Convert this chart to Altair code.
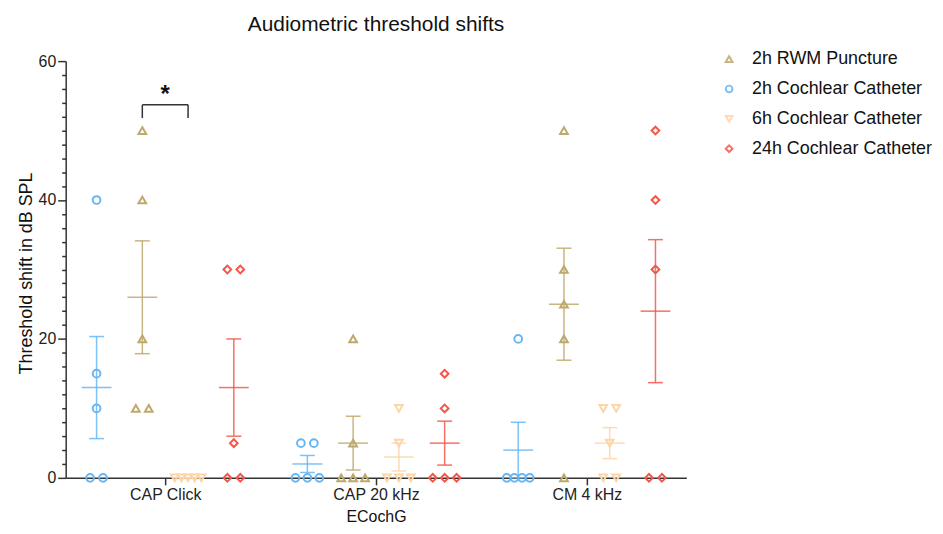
import altair as alt
import pandas as pd
import numpy as np

# ---------------- data ----------------
categories = ["CAP Click", "CAP 20 kHz", "CM 4 kHz"]
series = ["2h RWM Puncture", "2h Cochlear Catheter", "6h Cochlear Catheter", "24h Cochlear Catheter"]
slot_order = ["2h Cochlear Catheter", "2h RWM Puncture", "6h Cochlear Catheter", "24h Cochlear Catheter"]

rwm_2h = [[50, 40, 20, 10, 10], [20, 5, 0, 0, 0], [50, 30, 25, 20, 0]]
cc_2h = [[40, 15, 10, 0, 0], [5, 5, 0, 0, 0], [20, 0, 0, 0, 0]]
cc_6h = [[0, 0, 0, 0, 0], [10, 5, 0, 0, 0], [10, 10, 5, 0, 0]]
cc_24h = [[30, 30, 5, 0, 0], [15, 10, 0, 0, 0], [50, 40, 30, 0, 0]]

# significance annotation
sig_category = "CAP Click"
sig_pair = ["2h RWM Puncture", "6h Cochlear Catheter"]
sig_levels = [51.8, 53.7]
sig_label = "*"

colors = ["#BEA96C", "#66B6F4", "#FDD5A6", "#F4574A"]
shapes = ["triangle-up", "circle", "triangle-down", "diamond"]

# ---------------- layout helpers ----------------
values = dict(zip(series, [rwm_2h, cc_2h, cc_6h, cc_24h]))
col_of = dict(zip(series, colors))
W, H = 624, 419
X_MIN, X_MAX = 0.528, 3.472
px = (X_MAX - X_MIN) / W
slot_step = 46 * px
spread_px = {1: 0, 2: 13, 3: 12, 4: 7.7, 5: 6.7}


def center_of(s, ci):
    return ci + 1 + (slot_order.index(s) - 1.5) * slot_step


rows, stats = [], []
for s in series:
    for ci, cat in enumerate(categories):
        vals = values[s][ci]
        c = center_of(s, ci)
        for v in sorted(set(vals), reverse=True):
            n = vals.count(v)
            sp = spread_px[n] * px
            for i in range(n):
                rows.append(dict(series=s, category=cat, x=c + (i - (n - 1) / 2) * sp, y=v))
        arr = np.array(vals, dtype=float)
        m = arr.mean()
        sem = arr.std(ddof=1) / np.sqrt(len(arr))
        stats.append(dict(series=s, col=col_of[s], category=cat, x=c, mean=m, lo=m - sem, hi=m + sem))

pts = pd.DataFrame(rows)
st = pd.DataFrame(stats)

ci_sig = categories.index(sig_category)
xa, xb = center_of(sig_pair[0], ci_sig), center_of(sig_pair[1], ci_sig)
br_h = pd.DataFrame([dict(x=xa, x2=xb, y=sig_levels[1])])
br_v = pd.DataFrame([dict(x=xa, y=sig_levels[0], y2=sig_levels[1]),
                     dict(x=xb, y=sig_levels[0], y2=sig_levels[1])])
star = pd.DataFrame([dict(x=(xa + xb) / 2, y=sig_levels[1], t=sig_label)])

color_scale = alt.Scale(domain=series, range=colors)
shape_scale = alt.Scale(domain=series, range=shapes)
xs = alt.Scale(domain=[X_MIN, X_MAX], nice=False, zero=False)
ys = alt.Scale(domain=[0, 60], nice=False, zero=True)

label_expr = "[''," + ",".join("'%s'" % c for c in categories) + "][datum.value]"

x_axis = alt.Axis(values=[1, 2, 3], labelExpr=label_expr, title="ECochG", tickSize=7,
                  labelFontSize=16, titleFontSize=16, labelPadding=2, titlePadding=6,
                  grid=False, labelFlush=False)
y_axis = alt.Axis(values=list(range(0, 61, 2)),
                  labelExpr="datum.value % 20 === 0 ? datum.label : ''",
                  tickSize={"condition": {"test": "datum.value % 20 === 0", "value": 8}, "value": 4},
                  labelOverlap=False, title="Threshold shift in dB SPL", labelFontSize=16,
                  titleFontSize=18, labelPadding=2, titlePadding=3, titleY=213, grid=False)


def X(f):
    return alt.X(f, scale=xs, axis=x_axis)


def Y(f):
    return alt.Y(f, scale=ys, axis=y_axis)


lit = alt.Color("col:N", scale=None)

err = alt.Chart(st).mark_rule(strokeWidth=1.5, opacity=0.85).encode(
    x=X("x:Q"), y=Y("lo:Q"), y2="hi:Q", color=lit)
cap_lo = alt.Chart(st).mark_tick(orient="horizontal", size=15, thickness=1.5, opacity=0.85).encode(
    x=X("x:Q"), y=Y("lo:Q"), color=lit)
cap_hi = alt.Chart(st).mark_tick(orient="horizontal", size=15, thickness=1.5, opacity=0.85).encode(
    x=X("x:Q"), y=Y("hi:Q"), color=lit)
mean_t = alt.Chart(st).mark_tick(orient="horizontal", size=30, thickness=1.5, opacity=0.85).encode(
    x=X("x:Q"), y=Y("mean:Q"), color=lit)

leg = alt.Legend(title=None, orient="none", legendX=658, legendY=-11,
                 labelFontSize=18, labelOffset=14, rowPadding=12, labelLimit=0,
                 symbolSize=45, symbolStrokeWidth=2, padding=0, labelColor="#111")

points = alt.Chart(pts).mark_point(filled=False, size=60, strokeWidth=2, opacity=1).encode(
    x=X("x:Q"), y=Y("y:Q"),
    color=alt.Color("series:N", scale=color_scale, legend=leg, sort=series),
    shape=alt.Shape("series:N", scale=shape_scale, legend=leg, sort=series),
)

bh = alt.Chart(br_h).mark_rule(color="#333", strokeWidth=1.5).encode(
    x=X("x:Q"), x2="x2:Q", y=Y("y:Q"))
bv = alt.Chart(br_v).mark_rule(color="#333", strokeWidth=1.5).encode(
    x=X("x:Q"), y=Y("y:Q"), y2="y2:Q")
st_txt = alt.Chart(star).mark_text(fontSize=24, fontWeight="bold", color="#111", baseline="middle",
                                   dy=-10).encode(
    x=X("x:Q"), y=Y("y:Q"), text="t:N")

chart = alt.layer(err, cap_lo, cap_hi, mean_t, points, bh, bv, st_txt).properties(
    width=W, height=H,
    title=alt.TitleParams("Audiometric threshold shifts", fontSize=21, fontWeight="normal",
                          anchor="middle", frame="group", offset=15, color="#111"),
    autosize=alt.AutoSizeParams(type="none"),
    padding={"left": 58, "top": 52, "right": 250, "bottom": 46},
).configure(font="Liberation Sans").configure_view(stroke=None).configure_axis(
    domainColor="#333", tickColor="#333", domainWidth=1.5, tickWidth=1.5,
    labelColor="#222", titleColor="#111", titleFontWeight="normal",
    labelFont="Liberation Sans", titleFont="Liberation Sans")

chart.save("out.html", embed_options={"renderer": "svg", "actions": False})
